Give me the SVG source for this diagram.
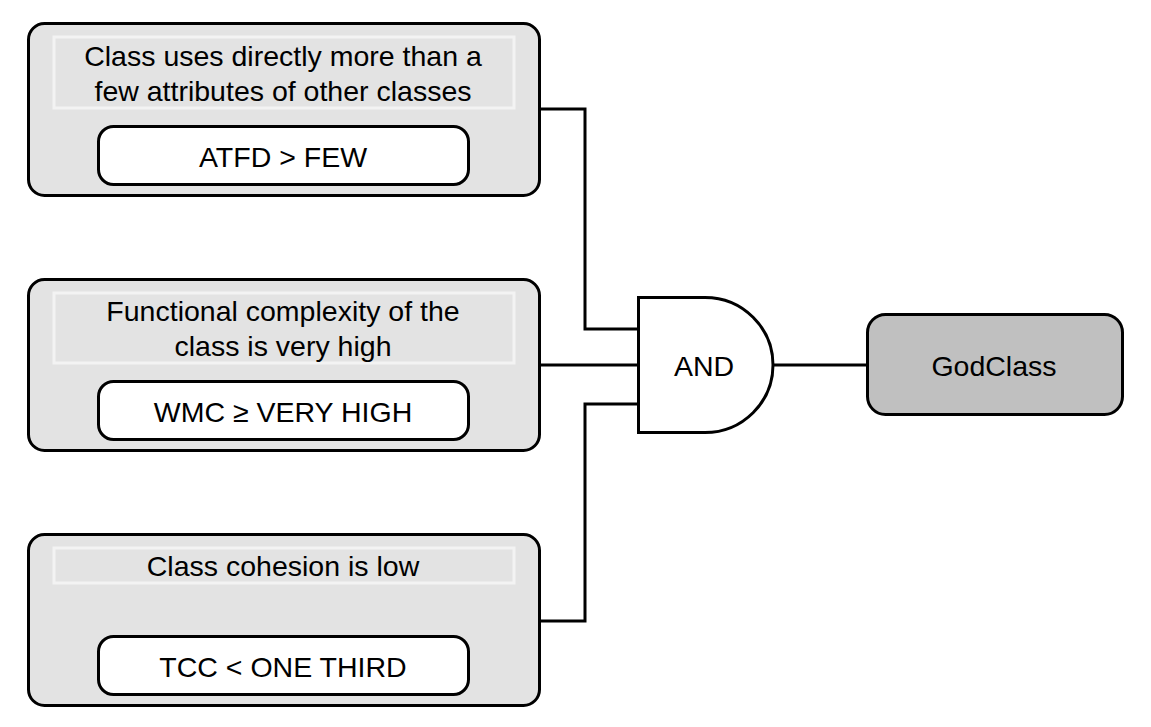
<svg xmlns="http://www.w3.org/2000/svg" width="1151" height="727" viewBox="0 0 1151 727">
<style>
.outer{fill:#e3e3e3;stroke:#000;stroke-width:3}
.lab{fill:#e3e3e3;stroke:#f3f3f3;stroke-width:3}
.cond{fill:#fff;stroke:#000;stroke-width:3}
.gate{fill:#fff;stroke:#000;stroke-width:3}
.res{fill:#c0c0c0;stroke:#000;stroke-width:3}
.wire{fill:none;stroke:#000;stroke-width:3}
text{font-family:"Liberation Sans",Arial,sans-serif;font-size:28.5px;fill:#000;text-anchor:middle}
</style>
<rect width="1151" height="727" fill="#fff"/>
<g id="node-atfd">
<rect class="outer" x="28.5" y="23.5" width="511" height="172" rx="16"/>
<rect class="lab" x="54" y="37" width="460" height="71"/>
<text x="283" y="66">Class uses directly more than a</text>
<text x="283" y="101">few attributes of other classes</text>
<rect class="cond" x="98.5" y="126.5" width="370" height="58" rx="15"/>
<text x="283" y="167">ATFD &gt; FEW</text>
</g>
<g id="node-wmc">
<rect class="outer" x="28.5" y="279.5" width="511" height="171" rx="16"/>
<rect class="lab" x="54" y="293" width="460" height="70"/>
<text x="283" y="321">Functional complexity of the</text>
<text x="283" y="356">class is very high</text>
<rect class="cond" x="98.5" y="381.5" width="370" height="58" rx="15"/>
<text x="283" y="422">WMC ≥ VERY HIGH</text>
</g>
<g id="node-tcc">
<rect class="outer" x="28.5" y="534.5" width="511" height="171" rx="16"/>
<rect class="lab" x="54" y="548" width="460" height="35"/>
<text x="283" y="576">Class cohesion is low</text>
<rect class="cond" x="98.5" y="636.5" width="370" height="58" rx="15"/>
<text x="283" y="677">TCC &lt; ONE THIRD</text>
</g>
<g id="connectors">
<polyline class="wire" points="540,109 585,109 585,329 638,329"/>
<line class="wire" x1="540" y1="365" x2="638" y2="365"/>
<polyline class="wire" points="540,621 585,621 585,404 638,404"/>
<line class="wire" x1="773" y1="365" x2="867" y2="365"/>
</g>
<g id="node-and">
<path class="gate" d="M638.5,297.5 H705 A68,67.5 0 0 1 705,432.5 H638.5 Z"/>
<text x="704" y="376">AND</text>
</g>
<g id="node-godclass">
<rect class="res" x="867.5" y="314.5" width="255" height="100" rx="18"/>
<text x="994" y="376">GodClass</text>
</g>
</svg>
